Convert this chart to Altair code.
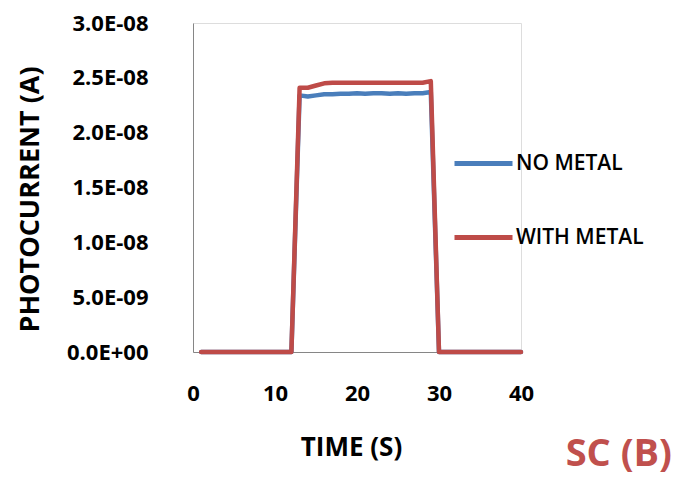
import altair as alt
import pandas as pd

# Time axis (s) and photocurrent (A) for both samples
time_s = list(range(1, 41))
no_metal = (
    [0.0] * 12
    + [2.34e-8, 2.33e-8, 2.34e-8, 2.35e-8, 2.35e-8, 2.355e-8, 2.355e-8, 2.36e-8,
       2.355e-8, 2.36e-8, 2.36e-8, 2.355e-8, 2.36e-8, 2.355e-8, 2.36e-8, 2.36e-8,
       2.37e-8]
    + [0.0] * 11
)
with_metal = (
    [0.0] * 12
    + [2.41e-8, 2.41e-8, 2.43e-8, 2.45e-8, 2.455e-8, 2.455e-8, 2.455e-8, 2.455e-8,
       2.455e-8, 2.455e-8, 2.455e-8, 2.455e-8, 2.455e-8, 2.455e-8, 2.455e-8, 2.455e-8,
       2.47e-8]
    + [0.0] * 11
)
series_names = ["NO METAL", "WITH METAL"]
series_colors = ["#4A7EBB", "#BE4B48"]
y_ticks = [0, 5e-9, 1e-8, 1.5e-8, 2e-8, 2.5e-8, 3e-8]
x_ticks = [0, 10, 20, 30, 40]

rows = []
for i, name in enumerate(series_names):
    vals = no_metal if i == 0 else with_metal
    for t, v in zip(time_s, vals):
        rows.append({"time": t, "current": v, "series": name, "order": i})
df = pd.DataFrame(rows)

FONT = "Open Sans"

chart = (
    alt.Chart(df)
    .mark_line(strokeWidth=4.5, strokeCap="round", strokeJoin="round")
    .encode(
        x=alt.X(
            "time:Q",
            scale=alt.Scale(domain=[0, 40], nice=False, zero=False),
            axis=alt.Axis(
                values=x_ticks,
                title="TIME (S)",
                grid=False,
                ticks=False,
                labelFlush=False,
                domainColor="#868686",
                labelFont=FONT,
                labelFontSize=22,
                labelFontWeight="bold",
                labelColor="#000000",
                labelPadding=41,
                labelBaseline="middle",
                titleFont=FONT,
                titleFontSize=26,
                titleFontWeight="bold",
                titleColor="#000000",
                titleX=158,
                titleY=95,
                titleBaseline="middle",
            ),
        ),
        y=alt.Y(
            "current:Q",
            scale=alt.Scale(domain=[0, 3e-8], nice=False),
            axis=alt.Axis(
                values=y_ticks,
                labelExpr="replace(replace(format(datum.value, '.1e'), 'e-', 'E-0'), 'e+', 'E+0')",
                title="PHOTOCURRENT (A)",
                grid=False,
                ticks=False,
                labelFlush=False,
                domainColor="#868686",
                labelFont=FONT,
                labelFontSize=22,
                labelFontWeight="bold",
                labelColor="#000000",
                labelPadding=45,
                titleFont=FONT,
                titleFontSize=27,
                titleFontWeight="bold",
                titleColor="#000000",
                titleX=-163,
                titleY=176,
                titleAlign="center",
                titleBaseline="middle",
            ),
        ),
        color=alt.Color(
            "series:N",
            scale=alt.Scale(domain=series_names, range=series_colors),
            legend=alt.Legend(
                title=None,
                orient="none",
                legendX=259,
                legendY=109,
                symbolType="stroke",
                symbolSize=3364,
                symbolStrokeWidth=5,
                labelFont=FONT,
                labelFontSize=21,
                labelFontWeight=600,
                labelColor="#000000",
                labelOffset=1,
                rowPadding=32,
                padding=0,
            ),
        ),
        order=alt.Order("order:Q"),
        detail="series:N",
    )
    .properties(
        width=328,
        height=329,
        padding={"left": 193, "top": 23, "right": 158, "bottom": 125},
        autosize=alt.AutoSizeParams(type="none"),
        title=alt.TitleParams(
            "SC (B)",
            orient="bottom",
            anchor="end",
            font=FONT,
            fontSize=38,
            fontWeight="bold",
            color="#C0504D",
            dx=28,
            dy=-28,
        ),
    )
    .configure_view(stroke=None)
    .configure(background="#FFFFFF")
)

chart.save("out.html", embed_options={"renderer": "svg", "actions": False})
